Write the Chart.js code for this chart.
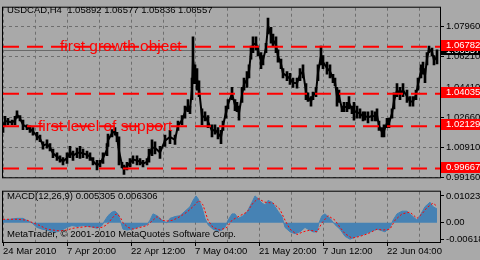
<!DOCTYPE html>
<html>
<head>
<meta charset="utf-8">
<script src="https://cdn.jsdelivr.net/npm/chart.js@4.4.0/dist/chart.umd.min.js"></script>
<style>
  html, body { margin: 0; padding: 0; background: #a9a9a9; }
  #wrap { position: relative; width: 480px; height: 260px; overflow: hidden; background: #a9a9a9; }
  #mainChart { position: absolute; left: 0; top: 0; }
  #macdChart { position: absolute; left: 0; top: 184px; }
</style>
</head>
<body>
<div id="wrap">
  <canvas id="mainChart" width="480" height="185"></canvas>
  <canvas id="macdChart" width="480" height="76"></canvas>
</div>
<script>
// USDCAD H4, bar index 0 = 24 Mar 2010 (one H4 bar per pixel)
var barIndex = [0, 2, 5, 9, 12, 14, 17, 20, 24, 27,
  30, 34, 37, 40, 44, 47, 50, 54, 57, 60,
  64, 67, 70, 74, 77, 80, 84, 87, 90, 94,
  97, 100, 104, 105, 109, 112, 114, 116, 119, 121,
  124, 127, 130, 134, 137, 140, 144, 146, 149, 152,
  157, 162, 167, 172, 175, 179, 182, 185, 187, 189,
  190, 192, 194, 196, 199, 202, 205, 209, 212, 215,
  218, 220, 223, 225, 229, 232, 234, 236, 239, 241,
  244, 246, 248, 250, 253, 255, 258, 260, 263, 265,
  268, 270, 273, 275, 278, 280, 284, 287, 290, 294,
  297, 300, 303, 305, 308, 310, 313, 315, 318, 320,
  324, 327, 330, 332, 334, 336, 339, 341, 344, 346,
  349, 351, 354, 357, 360, 362, 365, 369, 372, 374,
  376, 379, 381, 384, 386, 389, 391, 394, 397, 400,
  404, 407, 410, 413, 415, 418, 420, 422, 424, 426,
  429, 431, 434];
var barHigh = [1.0233, 1.0271, 1.0260, 1.0249, 1.0271, 1.0304, 1.0276, 1.0249, 1.0222, 1.0216,
  1.0205, 1.0178, 1.0162, 1.0123, 1.0134, 1.0112, 1.0080, 1.0058, 1.0041, 1.0030,
  1.0058, 1.0096, 1.0069, 1.0085, 1.0096, 1.0080, 1.0069, 1.0058, 1.0030, 1.0014,
  1.0014, 1.0058, 1.0112, 1.0167, 1.0194, 1.0205, 1.0178, 1.0151, 1.0003, 0.9987,
  1.0003, 1.0025, 1.0041, 1.0041, 1.0025, 1.0014, 1.0025, 1.0080, 1.0134, 1.0123,
  1.0096, 1.0162, 1.0189, 1.0162, 1.0244, 1.0276, 1.0331, 1.0369, 1.0331, 1.0495,
  1.0736, 1.0572, 1.0550, 1.0479, 1.0315, 1.0298, 1.0276, 1.0222, 1.0222, 1.0205,
  1.0189, 1.0244, 1.0331, 1.0369, 1.0440, 1.0369, 1.0353, 1.0331, 1.0440, 1.0495,
  1.0533, 1.0572, 1.0681, 1.0736, 1.0736, 1.0681, 1.0643, 1.0626, 1.0698, 1.0845,
  1.0791, 1.0752, 1.0736, 1.0659, 1.0605, 1.0550, 1.0533, 1.0523, 1.0495, 1.0495,
  1.0550, 1.0572, 1.0462, 1.0408, 1.0386, 1.0413, 1.0440, 1.0572, 1.0681, 1.0626,
  1.0588, 1.0572, 1.0517, 1.0495, 1.0440, 1.0424, 1.0331, 1.0353, 1.0353, 1.0386,
  1.0331, 1.0353, 1.0331, 1.0315, 1.0298, 1.0298, 1.0298, 1.0304, 1.0298, 1.0315,
  1.0244, 1.0205, 1.0222, 1.0260, 1.0260, 1.0315, 1.0408, 1.0462, 1.0440, 1.0462,
  1.0424, 1.0386, 1.0386, 1.0424, 1.0495, 1.0572, 1.0588, 1.0550, 1.0643, 1.0681,
  1.0670, 1.0626, 1.0659];
var barLow = [1.0178, 1.0216, 1.0222, 1.0222, 1.0222, 1.0260, 1.0244, 1.0194, 1.0194, 1.0178,
  1.0162, 1.0134, 1.0123, 1.0080, 1.0085, 1.0069, 1.0030, 1.0014, 1.0003, 0.9987,
  0.9997, 1.0030, 1.0014, 1.0030, 1.0025, 1.0030, 1.0025, 1.0014, 0.9987, 0.9959,
  0.9976, 0.9997, 1.0041, 1.0096, 1.0151, 1.0162, 1.0123, 0.9987, 0.9970, 0.9932,
  0.9959, 0.9976, 0.9997, 0.9987, 0.9987, 0.9976, 0.9987, 1.0003, 1.0041, 1.0052,
  1.0025, 1.0096, 1.0112, 1.0107, 1.0189, 1.0222, 1.0260, 1.0298, 1.0287, 1.0369,
  1.0462, 1.0462, 1.0424, 1.0386, 1.0222, 1.0244, 1.0205, 1.0151, 1.0167, 1.0140,
  1.0112, 1.0189, 1.0260, 1.0315, 1.0369, 1.0304, 1.0298, 1.0249, 1.0353, 1.0424,
  1.0440, 1.0495, 1.0605, 1.0643, 1.0659, 1.0626, 1.0550, 1.0572, 1.0643, 1.0752,
  1.0698, 1.0681, 1.0643, 1.0588, 1.0550, 1.0495, 1.0479, 1.0457, 1.0440, 1.0435,
  1.0479, 1.0495, 1.0369, 1.0358, 1.0331, 1.0369, 1.0386, 1.0479, 1.0572, 1.0550,
  1.0517, 1.0495, 1.0468, 1.0451, 1.0331, 1.0353, 1.0298, 1.0298, 1.0298, 1.0315,
  1.0287, 1.0249, 1.0260, 1.0260, 1.0244, 1.0249, 1.0233, 1.0244, 1.0244, 1.0244,
  1.0189, 1.0151, 1.0151, 1.0205, 1.0205, 1.0260, 1.0315, 1.0386, 1.0369, 1.0386,
  1.0353, 1.0331, 1.0331, 1.0369, 1.0424, 1.0495, 1.0517, 1.0468, 1.0572, 1.0643,
  1.0626, 1.0572, 1.0577];

// MACD(12,26,9): main line drawn as histogram, signal as dotted line
var histIndex = [0, 7, 14, 20, 25, 29, 34, 39, 44, 49, 54, 59, 64, 69, 74, 80, 87, 94, 99, 102,
  105, 109, 112, 115, 118, 120, 124, 129, 134, 139, 144, 147, 150, 154, 157, 160, 164, 167, 172, 177,
  182, 187, 190, 193, 195, 199, 202, 205, 210, 215, 219, 222, 225, 229, 232, 235, 239, 244, 249, 252,
  255, 259, 262, 265, 269, 272, 275, 279, 282, 287, 292, 297, 302, 305, 310, 314, 316, 319, 322, 327,
  332, 337, 342, 347, 354, 360, 367, 374, 377, 382, 387, 390, 394, 399, 404, 409, 414, 417, 422, 427,
  430, 434];
var histValue = [0.00102, 0.00136, 0.00171, 0.00171, 0.00068, 0, -0.00171, -0.00239, -0.00273, -0.00341,
  -0.00341, -0.00273, -0.00171, -0.00102, -0.00136, -0.00102, -0.00136, -0.00205, -0.00102, 0.00102,
  0.00273, 0.00409, 0.00443, 0.00341, 0, -0.00239, -0.00273, -0.00239, -0.00171, -0.00102,
  -0.00068, 0.00102, 0.00341, 0.00273, 0.00171, 0.00068, 0, 0.00171, 0.00239, 0.00273,
  0.00443, 0.00614, 0.00853, 0.01023, 0.00921, 0.0058, 0.00171, -0.00068, -0.00239, -0.00307,
  -0.00273, -0.00171, 0.00102, 0.00341, 0.00341, 0.00171, 0.00239, 0.00409, 0.00784, 0.01023,
  0.00921, 0.0075, 0.00682, 0.00853, 0.00784, 0.00614, 0.00443, 0.00239, -0.00171, -0.00341,
  -0.00409, -0.00341, -0.00171, -0.00239, -0.00341, -0.00341, 0, 0.00273, 0.00341, 0.00171,
  -0.00068, -0.00239, -0.00512, -0.00618, -0.00512, -0.00443, -0.00341, -0.00239, -0.00273, -0.00341,
  -0.00171, 0.00102, 0.00341, 0.00443, 0.00443, 0.00273, 0.00102, 0.00273, 0.00614, 0.00784,
  0.00614, 0.005305];
var signalIndex = [0, 14, 24, 30, 37, 44, 50, 57, 64, 70, 77, 84, 92, 99, 104, 109, 113, 117, 120, 125,
  130, 137, 144, 149, 154, 159, 164, 170, 177, 184, 190, 196, 200, 205, 210, 217, 224, 229, 237, 244,
  250, 255, 262, 270, 277, 282, 287, 294, 300, 307, 314, 319, 325, 332, 337, 342, 349, 357, 365, 374,
  380, 387, 392, 399, 407, 414, 419, 424, 430, 434];
var signalValue = [0.00136, 0.00136, 0.00102, 0, -0.00102, -0.00239, -0.00273, -0.00307, -0.00273, -0.00205,
  -0.00171, -0.00136, -0.00171, -0.00171, -0.00068, 0.00171, 0.00341, 0.00239, 0, -0.00171,
  -0.00239, -0.00171, -0.00102, 0.00068, 0.00239, 0.00102, 0.00068, 0.00102, 0.00239, 0.00409,
  0.00614, 0.00853, 0.00682, 0.00102, -0.00171, -0.00273, -0.00171, 0.00102, 0.00273, 0.00409,
  0.0075, 0.00921, 0.00784, 0.0075, 0.00512, 0.00102, -0.00239, -0.00443, -0.00341, -0.00273,
  -0.00341, 0, 0.00273, 0.00102, -0.00171, -0.00409, -0.0058, -0.00512, -0.00409, -0.00239,
  -0.00273, -0.00239, 0.00102, 0.00341, 0.00409, 0.00171, 0.00341, 0.0058, 0.0075, 0.006306];

// horizontal objects and axis ticks
var levelPrices = [1.06782, 1.04035, 1.02129, 0.99667];
var bidPrice = 1.06557;
var noteTexts = ['first growth object', 'first level of support'];
var notePrices = [1.06782, 1.02129];
var noteIndex = [57, 35];
var priceTicks = [1.0796, 1.0621, 1.0441, 1.0266, 1.0091, 0.9916];
var macdTicks = [0.01023, 0, -0.00618];
var gridIndex = [0, 32, 64, 96, 128, 160, 192, 224, 256, 288, 320, 352, 384, 416];
var dateIndex = [0, 64, 128, 192, 256, 320, 384];
var dateLabels = ['24 Mar 2010', '7 Apr 20:00', '22 Apr 12:00', '7 May 04:00', '21 May 20:00', '7 Jun 12:00', '22 Jun 04:00'];
var titleText = 'USDCAD,H4  1.05892 1.06577 1.05836 1.06557';
var macdText = 'MACD(12,26,9) 0.005305 0.006306';
var copyText = 'MetaTrader, \u00a9 2001-2010 MetaQuotes Software Corp.';

var smallFont = '9.5px "Liberation Sans", Arial, sans-serif';
var gridColor = '#6e6e6e';
var lastIndex = 437;

function pts(xs, ys) {
  return xs.map(function (x, i) { return { x: x, y: ys[i] }; });
}

var datasets = [
  {
    type: 'bar', order: 5, barThickness: 2, backgroundColor: '#000', borderWidth: 0,
    data: barIndex.map(function (x, i) { return { x: x, y: [barLow[i], barHigh[i]] }; })
  },
  {
    order: 4, borderColor: '#000', borderWidth: 2, fill: false,
    data: barIndex.map(function (x, i) { return { x: x, y: (barLow[i] + barHigh[i]) / 2 }; })
  }
];
levelPrices.forEach(function (p) {
  datasets.push({ data: [{ x: 0, y: p }, { x: lastIndex, y: p }], borderColor: '#ff0000', borderWidth: 2, borderDash: [16, 8], fill: false, order: 0 });
});
datasets.push({ data: [{ x: 0, y: bidPrice }, { x: lastIndex, y: bidPrice }], borderColor: '#6a6a6a', borderWidth: 1, fill: false, order: 9 });

function frame(chart) {
  var a = chart.chartArea, ctx = chart.ctx;
  ctx.save();
  ctx.strokeStyle = '#000';
  ctx.lineWidth = 1;
  ctx.strokeRect(a.left - 0.5, a.top - 0.5, a.right - a.left + 1, a.bottom - a.top + 1);
  ctx.restore();
}

var mainDecor = {
  id: 'mainDecor',
  beforeDraw: function (chart) {
    var ctx = chart.ctx, py = chart.scales.y.getPixelForValue(bidPrice), x0 = chart.chartArea.right + 1;
    ctx.save();
    ctx.fillStyle = '#000';
    ctx.fillRect(x0, Math.round(py) - 6, 480 - x0, 11);
    ctx.fillStyle = '#fff';
    ctx.font = smallFont;
    ctx.textBaseline = 'middle';
    ctx.fillText(bidPrice.toFixed(5), x0 + 5, py - 0.5);
    ctx.restore();
  },
  afterDraw: function (chart) {
    var ctx = chart.ctx, ys = chart.scales.y, xs = chart.scales.x, x0 = chart.chartArea.right + 1;
    frame(chart);
    ctx.save();
    ctx.textBaseline = 'middle';
    ctx.font = smallFont;
    ctx.fillStyle = '#000';
    ctx.fillText(titleText, 7, 10.5);
    ctx.font = '15.5px "Liberation Sans", Arial, sans-serif';
    ctx.fillStyle = '#ff0000';
    noteTexts.forEach(function (t, i) {
      ctx.fillText(t, xs.getPixelForValue(noteIndex[i]), ys.getPixelForValue(notePrices[i]) + 0.5);
    });
    ctx.font = smallFont;
    levelPrices.forEach(function (p) {
      var py = ys.getPixelForValue(p);
      ctx.fillStyle = '#ff0000';
      ctx.fillRect(x0, Math.round(py) - 7, 480 - x0, 11);
      ctx.fillStyle = '#fff';
      ctx.fillText(p.toFixed(5), x0 + 5, Math.round(py) - 1.5);
    });
    ctx.restore();
  }
};

new Chart(document.getElementById('mainChart'), {
  type: 'line',
  data: { datasets: datasets },
  options: {
    responsive: false,
    animation: false,
    events: [],
    layout: { padding: { left: 3, top: 2, right: 0, bottom: 2 } },
    elements: { point: { radius: 0 }, line: { tension: 0 } },
    plugins: { legend: { display: false }, tooltip: { enabled: false } },
    scales: {
      x: {
        type: 'linear', min: 0, max: lastIndex, offset: false,
        afterBuildTicks: function (s) { s.ticks = gridIndex.map(function (v) { return { value: v }; }); },
        afterFit: function (s) { s.height = 0; },
        ticks: { display: false },
        grid: { color: gridColor, drawTicks: false, offset: false },
        border: { display: false, dash: [3, 3] }
      },
      y: {
        position: 'right', min: 0.99154, max: 1.09055,
        afterBuildTicks: function (s) { s.ticks = priceTicks.map(function (v) { return { value: v }; }); },
        afterFit: function (s) { s.width = 40; },
        ticks: { color: '#000', padding: 2, font: { family: '"Liberation Sans", Arial, sans-serif', size: 9.5 },
          callback: function (v) { return v.toFixed(5); } },
        grid: { color: gridColor, tickLength: 4, tickColor: '#000', tickBorderDash: [] },
        border: { display: false, dash: [3, 3] }
      }
    }
  },
  plugins: [mainDecor]
});

var macdDecor = {
  id: 'macdDecor',
  afterDraw: function (chart) {
    var ctx = chart.ctx;
    frame(chart);
    ctx.save();
    ctx.font = smallFont;
    ctx.fillStyle = '#000';
    ctx.textBaseline = 'middle';
    ctx.fillText(macdText, 7, 12.5);
    ctx.fillText(copyText, 7, 50);
    ctx.restore();
  }
};

new Chart(document.getElementById('macdChart'), {
  type: 'line',
  data: {
    datasets: [
      { data: pts(signalIndex, signalValue), borderColor: '#ff0000', borderWidth: 1, borderDash: [2, 2], fill: false },
      { data: pts(histIndex, histValue), borderColor: '#4682b4', borderWidth: 1, backgroundColor: '#4682b4', fill: 'origin' }
    ]
  },
  options: {
    responsive: false,
    animation: false,
    events: [],
    layout: { padding: { left: 3, top: 2, right: 0, bottom: 0 } },
    elements: { point: { radius: 0 }, line: { tension: 0 } },
    plugins: { legend: { display: false }, tooltip: { enabled: false } },
    scales: {
      x: {
        type: 'linear', min: 0, max: lastIndex,
        afterBuildTicks: function (s) { s.ticks = gridIndex.map(function (v) { return { value: v }; }); },
        afterFit: function (s) { s.height = 18; },
        ticks: {
          autoSkip: false, maxRotation: 0, align: 'start', padding: 0, color: '#000',
          font: { family: '"Liberation Sans", Arial, sans-serif', size: 9.5 },
          callback: function (v) { var i = dateIndex.indexOf(v); return i < 0 ? '' : dateLabels[i]; }
        },
        grid: {
          color: gridColor, tickLength: 4, tickBorderDash: [],
          tickColor: function (c) { return c.tick && dateIndex.indexOf(c.tick.value) >= 0 ? '#000' : 'rgba(0,0,0,0)'; }
        },
        border: { display: false, dash: [3, 3] }
      },
      y: {
        position: 'right', min: -0.00726, max: 0.01183,
        afterBuildTicks: function (s) { s.ticks = macdTicks.map(function (v) { return { value: v }; }); },
        afterFit: function (s) { s.width = 40; },
        ticks: { color: '#000', padding: 2, font: { family: '"Liberation Sans", Arial, sans-serif', size: 9.5 },
          callback: function (v) { return v === 0 ? '0.00' : v.toFixed(5); } },
        grid: { drawOnChartArea: false, tickLength: 4, tickColor: '#000' },
        border: { display: false }
      }
    }
  },
  plugins: [macdDecor]
});
</script>
</body>
</html>
